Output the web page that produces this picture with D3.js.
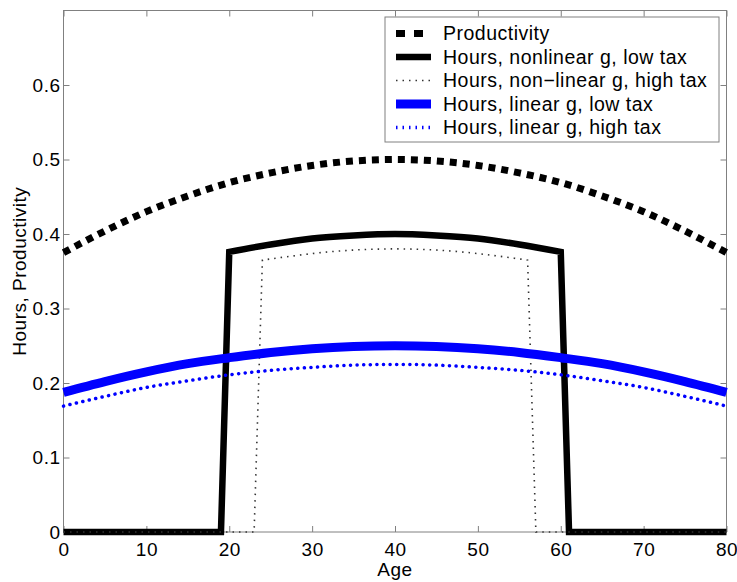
<!DOCTYPE html>
<html>
<head>
<meta charset="utf-8">
<script src="https://cdn.jsdelivr.net/npm/d3@7"></script>
<style>
  body { margin: 0; background: #fff; }
  svg { font-family: "Liberation Sans", Arial, sans-serif; }
  .axis path, .axis line { stroke: #808080; }
  .axis text { fill: #000; font-size: 19px; letter-spacing: 0.5px; }
</style>
</head>
<body>
<svg id="chart"></svg>
<script>
// ages for the smooth curves
const ages = [0, 5, 10, 15, 20, 25, 30, 35, 40, 45, 50, 55, 60, 65, 70, 75, 80]
const productivity = [0.375, 0.404, 0.43, 0.451, 0.469, 0.482, 0.492, 0.498, 0.5, 0.498, 0.492, 0.482, 0.469, 0.451, 0.43, 0.404, 0.375]
const hoursLinearLow = [0.1875, 0.202, 0.215, 0.226, 0.234, 0.241, 0.246, 0.249, 0.25, 0.249, 0.246, 0.241, 0.234, 0.226, 0.215, 0.202, 0.1875]
const hoursLinearHigh = [0.169, 0.182, 0.194, 0.203, 0.211, 0.217, 0.221, 0.224, 0.225, 0.224, 0.221, 0.217, 0.211, 0.203, 0.194, 0.182, 0.169]

// nonlinear g: works only in the middle of life
const agesNonlinLow = [0, 19, 20, 25, 30, 35, 40, 45, 50, 55, 60, 61, 80]
const hoursNonlinLow = [0, 0, 0.376, 0.386, 0.394, 0.398, 0.4, 0.398, 0.394, 0.386, 0.376, 0, 0]
const agesNonlinHigh = [0, 23, 24, 28, 32, 36, 40, 44, 48, 52, 56, 57, 80]
const hoursNonlinHigh = [0, 0, 0.365, 0.371, 0.376, 0.379, 0.38, 0.379, 0.376, 0.371, 0.365, 0, 0]

const xTicks = [0, 10, 20, 30, 40, 50, 60, 70, 80]
const yTicks = [0, 0.1, 0.2, 0.3, 0.4, 0.5, 0.6]

const legendLabels = [
  "Productivity",
  "Hours, nonlinear g, low tax",
  "Hours, non\u2212linear g, high tax",
  "Hours, linear g, low tax",
  "Hours, linear g, high tax"
]

var margin = {top: 10.5, right: 10.5, bottom: 50, left: 63.5},
  W = 737, H = 582,
  width = W - margin.left - margin.right,
  height = H - margin.top - margin.bottom;

var svg = d3.select("#chart").attr("width", W).attr("height", H)
var g = svg.append("g").attr("transform", "translate(" + margin.left + "," + margin.top + ")")

var x = d3.scaleLinear().domain([0, 80]).range([0, width])
var y = d3.scaleLinear().domain([0, 0.7]).range([height, 0])

var smooth = d3.line().x(d => x(d[0])).y(d => y(d[1])).curve(d3.curveMonotoneX)
var straight = d3.line().x(d => x(d[0])).y(d => y(d[1]))

// smooth curve, or straight jumps at both ends + smooth arc between them
function pathFor(s) {
  var pts = s.xs.map((a, i) => [a, s.ys[i]])
  if (!s.steps) return smooth(pts)
  var n = pts.length
  var head = straight(pts.slice(0, 3))
  var mid = smooth(pts.slice(2, n - 2)).replace(/^M/, "L")
  var tail = straight(pts.slice(n - 3)).replace(/^M/, "L")
  return head + mid + tail
}

// series styles (legendDash is how the sample looks in the box)
var series = [
  {xs: ages, ys: productivity, color: "#000", w: 7, dash: "7,6", legendDash: "9,9", cap: "butt"},
  {xs: agesNonlinLow, ys: hoursNonlinLow, color: "#000", w: 6.5, dash: null, cap: "butt", steps: true},
  {xs: agesNonlinHigh, ys: hoursNonlinHigh, color: "#333", w: 1.6, dash: "1.5,5", cap: "butt", steps: true},
  {xs: ages, ys: hoursLinearLow, color: "#0000ff", w: 9, dash: null, cap: "butt"},
  {xs: ages, ys: hoursLinearHigh, color: "#0000ff", w: 3.5, dash: "0.1,6.5", legendDash: "1.5,5", cap: "round"}
]

// box + inward ticks
g.append("rect").attr("width", width).attr("height", height)
  .attr("fill", "none").attr("stroke", "#808080")

g.append("g").attr("class", "axis")
  .attr("transform", "translate(0," + height + ")")
  .call(d3.axisBottom(x).tickValues(xTicks).tickSizeInner(-6).tickSizeOuter(0).tickPadding(11).tickFormat(d3.format("d")))
g.append("g").attr("class", "axis")
  .call(d3.axisTop(x).tickValues(xTicks).tickSizeInner(-6).tickSizeOuter(0).tickFormat(""))
g.append("g").attr("class", "axis")
  .call(d3.axisLeft(y).tickValues(yTicks).tickSizeInner(-6).tickSizeOuter(0).tickPadding(3).tickFormat(d => d === 0 ? "0" : d3.format(".1f")(d)))
g.append("g").attr("class", "axis")
  .attr("transform", "translate(" + width + ",0)")
  .call(d3.axisRight(y).tickValues(yTicks).tickSizeInner(-6).tickSizeOuter(0).tickFormat(""))
g.selectAll(".axis .domain").remove()

// lines
series.forEach(s => {
  g.append("path")
    .attr("fill", "none")
    .attr("stroke", s.color)
    .attr("stroke-width", s.w)
    .attr("stroke-dasharray", s.dash)
    .attr("stroke-linecap", s.cap)
    .attr("stroke-linejoin", "miter")
    .attr("d", pathFor(s))
})

// axis labels
svg.append("text")
  .attr("x", margin.left + width / 2).attr("y", 576)
  .attr("text-anchor", "middle").attr("font-size", 19).attr("letter-spacing", 0.5)
  .text("Age")
svg.append("text")
  .attr("transform", "translate(26," + (margin.top + height / 2) + ") rotate(-90)")
  .attr("text-anchor", "middle").attr("font-size", 19).attr("letter-spacing", 0.5)
  .text("Hours, Productivity")

// legend
var lg = svg.append("g").attr("transform", "translate(385,17)")
lg.append("rect").attr("width", 334).attr("height", 125)
  .attr("fill", "#fff").attr("stroke", "#808080")
legendLabels.forEach((lab, i) => {
  var s = series[i]
  var ly = 16.5 + i * 23.5
  lg.append("line")
    .attr("x1", 11).attr("x2", 46).attr("y1", ly).attr("y2", ly)
    .attr("stroke", s.color).attr("stroke-width", s.w)
    .attr("stroke-dasharray", s.legendDash || s.dash).attr("stroke-linecap", "butt")
  lg.append("text")
    .attr("x", 58).attr("y", ly).attr("dy", "0.35em")
    .attr("font-size", 19.5).attr("letter-spacing", 0.5)
    .text(lab)
})
</script>
</body>
</html>
